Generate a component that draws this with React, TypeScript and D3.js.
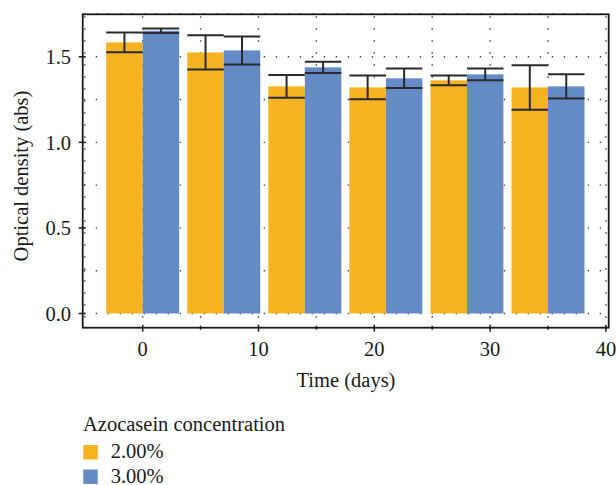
import React from "react";
import * as d3 from "d3";

// sampling days and measured optical density (mean, ± error)
const days = [0, 7, 14, 21, 28, 35];
const od2 = [1.584, 1.525, 1.327, 1.321, 1.362, 1.321];
const err2 = [0.057, 0.1, 0.066, 0.07, 0.029, 0.13];
const od3 = [1.652, 1.537, 1.438, 1.374, 1.397, 1.327];
const err3 = [0.013, 0.082, 0.033, 0.057, 0.034, 0.071];

const seriesNames = ["2.00%", "3.00%"];
const seriesColors = ["#F5B321", "#648BC6"];
const xTicks = [0, 10, 20, 30, 40];
const yTicks = [0, 0.5, 1.0, 1.5];

const W = 616;
const H = 485;
const FONT = "'Liberation Serif', 'DejaVu Serif', serif";

const App = () => {
  const x = d3.scaleLinear().domain([-5.18, 40.24]).range([82.7, 608.7]);
  const y = d3.scaleLinear().domain([-0.083, 1.748]).range([327.7, 14.3]);
  const barW = 3.15; // in days

  const series = [
    { vals: od2, errs: err2, offset: -barW },
    { vals: od3, errs: err3, offset: 0 },
  ];

  const xGrid = d3.range(-5, 41, 5);
  const yGrid = d3.range(0, 1.76, 0.25);
  const xMinor = d3.range(5, 40, 10);

  return (
    <svg
      width={W}
      height={H}
      style={{ position: "absolute", left: 0, top: 0, background: "#fff" }}
      fontFamily={FONT}
    >
      {/* dotted grid */}
      <g stroke="#444" strokeWidth={1.4} strokeDasharray="1.4,10.6">
        {xGrid.map((d) => (
          <line key={"gx" + d} x1={x(d)} x2={x(d)} y1={y.range()[1] + 2} y2={y.range()[0]} />
        ))}
        {yGrid.map((d) => (
          <line key={"gy" + d} x1={x.range()[0] + 1} x2={x.range()[1]} y1={y(d)} y2={y(d)} />
        ))}
      </g>

      {/* bars */}
      {series.map((s, si) =>
        days.map((day, i) => (
          <rect
            key={`b${si}-${i}`}
            x={x(day + s.offset)}
            width={x(day + s.offset + barW) - x(day + s.offset)}
            y={y(s.vals[i])}
            height={y(0) - y(s.vals[i])}
            fill={seriesColors[si]}
          />
        ))
      )}

      {/* error bars */}
      <g stroke="#2a2a2a" strokeWidth={2}>
        {series.map((s, si) =>
          days.map((day, i) => {
            const x0 = x(day + s.offset);
            const x1 = x(day + s.offset + barW);
            const xm = (x0 + x1) / 2;
            const hi = y(s.vals[i] + s.errs[i]);
            const lo = y(s.vals[i] - s.errs[i]);
            return (
              <g key={`e${si}-${i}`}>
                <line x1={xm} x2={xm} y1={hi} y2={lo} />
                <line x1={x0} x2={x1} y1={hi} y2={hi} />
                <line x1={x0} x2={x1} y1={lo} y2={lo} />
              </g>
            );
          })
        )}
      </g>

      {/* frame */}
      <rect
        x={x.range()[0]}
        y={y.range()[1]}
        width={x.range()[1] - x.range()[0]}
        height={y.range()[0] - y.range()[1]}
        fill="none"
        stroke="#1a1a1a"
        strokeWidth={1.8}
      />

      {/* ticks */}
      <g stroke="#1a1a1a" strokeWidth={1.5}>
        {xTicks.map((d) => (
          <line key={"xt" + d} x1={x(d)} x2={x(d)} y1={y.range()[0] - 3} y2={y.range()[0] + 4} />
        ))}
        {xMinor.map((d) => (
          <line key={"xm" + d} x1={x(d)} x2={x(d)} y1={y.range()[0] - 2} y2={y.range()[0] + 2} />
        ))}
        {yTicks.map((d) => (
          <line key={"yt" + d} x1={x.range()[0] - 4} x2={x.range()[0] + 3} y1={y(d)} y2={y(d)} />
        ))}
      </g>
      <g fontSize={20.5} fill="#1a1a1a">
        {xTicks.map((d) => (
          <text key={"xl" + d} x={x(d)} y={356} textAnchor="middle">
            {d}
          </text>
        ))}
        {yTicks.map((d) => (
          <text key={"yl" + d} x={71} y={y(d)} dy="0.35em" textAnchor="end">
            {d3.format(".1f")(d)}
          </text>
        ))}
        <text x={346} y={387} textAnchor="middle">
          Time (days)
        </text>
        <text transform="translate(28,176) rotate(-90)" textAnchor="middle">
          Optical density (abs)
        </text>
      </g>

      {/* legend */}
      <g fontSize={20.5} fill="#1a1a1a">
        <text x={83} y={431}>
          Azocasein concentration
        </text>
        {seriesNames.map((name, i) => (
          <g key={name}>
            <rect x={83.3} y={445 + i * 24.5} width={14.4} height={14.4} fill={seriesColors[i]} />
            <text x={110.7} y={458 + i * 24.5}>
              {name}
            </text>
          </g>
        ))}
      </g>
    </svg>
  );
};

export default App;
